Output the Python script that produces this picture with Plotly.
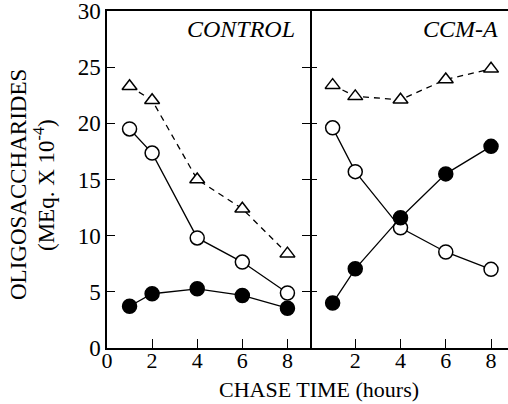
import plotly.graph_objects as go

# Data
hours = [1, 2, 4, 6, 8]
control_total = [23.3, 22.05, 15.0, 12.4, 8.4]      # triangles (dashed)
control_open = [19.5, 17.35, 9.8, 7.65, 4.9]        # open circles
control_filled = [3.72, 4.83, 5.27, 4.68, 3.54]     # filled circles
ccma_total = [23.4, 22.4, 22.1, 23.9, 24.85]
ccma_open = [19.6, 15.7, 10.7, 8.55, 7.0]
ccma_filled = [4.0, 7.05, 11.6, 15.5, 17.95]

left_xticks = [0, 2, 4, 6, 8]
right_xticks = [2, 4, 6, 8]
yticks = [0, 5, 10, 15, 20, 25, 30]

FONT = "Liberation Serif"
W, H = 508, 404
ML, MR, MT, MB = 107, 0, 11, 56
split = (310 - ML) / (W - ML - MR)

fig = go.Figure()

def add_panel(xa, ya, tri, opn, fil):
    fig.add_trace(go.Scatter(x=hours, y=tri, xaxis=xa, yaxis=ya, mode="lines+markers",
                             line=dict(color="black", width=1.3, dash="6px,5px"),
                             marker=dict(symbol="triangle-up", size=13, color="white",
                                         line=dict(color="black", width=1.5)),
                             showlegend=False, cliponaxis=False))
    fig.add_trace(go.Scatter(x=hours, y=opn, xaxis=xa, yaxis=ya, mode="lines+markers",
                             line=dict(color="black", width=1.3),
                             marker=dict(symbol="circle", size=14, color="white",
                                         line=dict(color="black", width=1.5)),
                             showlegend=False, cliponaxis=False))
    fig.add_trace(go.Scatter(x=hours, y=fil, xaxis=xa, yaxis=ya, mode="lines+markers",
                             line=dict(color="black", width=1.3),
                             marker=dict(symbol="circle", size=14, color="black",
                                         line=dict(color="black", width=1.5)),
                             showlegend=False, cliponaxis=False))

add_panel("x", "y", control_total, control_open, control_filled)
add_panel("x2", "y2", ccma_total, ccma_open, ccma_filled)

axis_common = dict(showgrid=False, zeroline=False, linecolor="black", linewidth=1.5,
                   ticks="inside", tickcolor="black", tickwidth=1.3,
                   ticklabeloverflow="allow")
yfont = dict(family=FONT, size=23, color="black")
xfont = dict(family=FONT, size=22, color="black")

fig.update_layout(
    width=W, height=H,
    margin=dict(l=ML, r=MR, t=MT, b=MB),
    paper_bgcolor="white", plot_bgcolor="white",
    xaxis=dict(domain=[0, split], range=[0, 9], tickvals=left_xticks, showline=True,
               mirror=True, ticklen=9, anchor="y", ticklabelstandoff=-8,
               tickfont=xfont, **axis_common),
    yaxis=dict(domain=[0, 1], range=[0, 30], tickvals=yticks, showline=True,
               mirror="ticks", ticklen=8, anchor="x", tickfont=yfont, **axis_common),
    xaxis2=dict(domain=[split, 1], range=[0, 8.75], tickvals=right_xticks, showline=True,
                mirror=True, ticklen=9, anchor="y2", ticklabelstandoff=-8,
                tickfont=xfont, **axis_common),
    yaxis2=dict(domain=[0, 1], range=[0, 30], tickvals=yticks, showline=False,
                showticklabels=False, ticklen=7, anchor="x2", **axis_common),
    yaxis3=dict(domain=[0, 1], range=[0, 30], tickvals=yticks, showline=False,
                showticklabels=False, ticklen=7, anchor="x2", overlaying="y2",
                side="right", **axis_common),
    font=dict(family=FONT, color="black"),
)

def px_x(p):
    return (p - ML) / (W - ML - MR)

def px_y(p):
    return (H - MB - p) / (H - MB - MT)

fig.add_annotation(text="<i>CONTROL</i>", xref="paper", yref="paper",
                   x=px_x(297), y=px_y(29), xanchor="right", yanchor="middle",
                   showarrow=False, font=dict(family=FONT, size=24, color="black"))
fig.add_annotation(text="<i>CCM-A</i>", xref="paper", yref="paper",
                   x=px_x(500), y=px_y(29), xanchor="right", yanchor="middle",
                   showarrow=False, font=dict(family=FONT, size=24, color="black"))
fig.add_annotation(text="OLIGOSACCHARIDES", xref="paper", yref="paper",
                   x=px_x(18), y=px_y(185), xanchor="center", yanchor="middle",
                   textangle=-90, showarrow=False,
                   font=dict(family=FONT, size=23, color="black"))
fig.add_annotation(text="(MEq. X 10<sup>-4</sup>)", xref="paper", yref="paper",
                   x=px_x(44), y=px_y(185), xanchor="center", yanchor="middle",
                   textangle=-90, showarrow=False,
                   font=dict(family=FONT, size=23, color="black"))
fig.add_annotation(text="CHASE TIME (hours)", xref="paper", yref="paper",
                   x=px_x(319), y=px_y(389), xanchor="center", yanchor="middle",
                   showarrow=False, font=dict(family=FONT, size=22, color="black"))

fig.write_html("out.html")
